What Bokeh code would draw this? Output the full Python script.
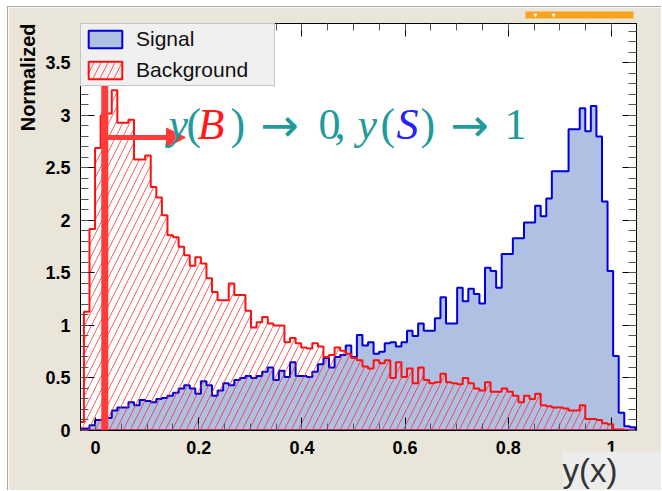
import numpy as np
from bokeh.plotting import figure
from bokeh.models import (Range1d, FixedTicker, LinearAxis, Legend, LegendItem,
                          Span, Arrow, NormalHead, Label, Title, CustomJSTickFormatter)
from bokeh.embed import file_html
from bokeh.resources import INLINE

# ---------------- data ----------------
HIST_MIN, HIST_MAX = -0.0332, 1.0463

signal = [0.02, 0.02, 0.05, 0.10, 0.10, 0.12, 0.19, 0.22, 0.22, 0.27,
          0.24, 0.29, 0.28, 0.27, 0.30, 0.31, 0.33, 0.36, 0.40, 0.43,
          0.40, 0.35, 0.47, 0.43, 0.33, 0.38, 0.45, 0.43, 0.48, 0.50,
          0.52, 0.50, 0.52, 0.56, 0.60, 0.48, 0.57, 0.51, 0.65, 0.52,
          0.52, 0.51, 0.56, 0.63, 0.69, 0.60, 0.70, 0.72, 0.81, 0.70,
          0.91, 0.81, 0.84, 0.73, 0.75, 0.83, 0.84, 0.80, 0.84, 0.95,
          0.90, 1.02, 0.95, 0.95, 1.07, 1.27, 1.02, 1.02, 1.36, 1.23,
          1.35, 1.30, 1.21, 1.55, 1.52, 1.36, 1.68, 1.68, 1.83, 1.83,
          1.98, 1.98, 2.14, 2.04, 2.21, 2.47, 2.47, 2.47, 2.87, 2.87,
          3.07, 2.85, 3.09, 2.80, 2.18, 1.52, 0.71, 0.17, 0.04, 0.03]

background = [0.08, 1.13, 1.92, 2.69, 3.00, 3.02, 3.24, 2.93, 2.93, 2.96,
              2.58, 2.58, 2.62, 2.32, 2.22, 2.05, 1.86, 1.84, 1.75, 1.67,
              1.57, 1.65, 1.59, 1.45, 1.32, 1.24, 1.24, 1.40, 1.29, 1.29,
              1.14, 0.98, 1.03, 1.08, 1.02, 1.00, 1.00, 0.84, 0.88, 0.83,
              0.79, 0.78, 0.83, 0.80, 0.70, 0.72, 0.79, 0.76, 0.73, 0.69,
              0.67, 0.61, 0.59, 0.67, 0.64, 0.67, 0.50, 0.65, 0.51, 0.59,
              0.45, 0.60, 0.48, 0.45, 0.46, 0.54, 0.46, 0.45, 0.44, 0.50,
              0.45, 0.40, 0.38, 0.46, 0.37, 0.37, 0.40, 0.37, 0.33, 0.27,
              0.33, 0.30, 0.35, 0.24, 0.23, 0.22, 0.22, 0.21, 0.19, 0.19,
              0.24, 0.11, 0.11, 0.10, 0.07, 0.06, 0.01, 0.01, 0.00, 0.00]

x_ticks = [0, 0.2, 0.4, 0.6, 0.8, 1.0]
x_tick_labels = ["0", "0.2", "0.4", "0.6", "0.8", "1"]
y_ticks = [0, 0.5, 1.0, 1.5, 2.0, 2.5, 3.0, 3.5]
y_tick_labels = ["0", "0.5", "1", "1.5", "2", "2.5", "3", "3.5"]
x_minor = [round(0.05 * k, 2) for k in range(0, 21)]
y_minor = [round(0.1 * k, 1) for k in range(0, 39)]

CUT = 0.018          # cut value on y(x)
ARROW_Y = 2.79
ARROW_END = 0.1744

# ---------------- figure ----------------
BEIGE = "#e9e5d9"
p = figure(width=654, height=484,
           x_range=Range1d(-0.029, 1.0484), y_range=Range1d(0, 3.876),
           output_backend="svg", toolbar_location=None,
           min_border_left=72, min_border_right=26,
           min_border_top=16, min_border_bottom=61,
           background_fill_color="white", border_fill_color=BEIGE,
           outline_line_color="black", outline_line_width=1)
p.styles = {"margin-left": "7px", "margin-top": "6px",
            "border-left": "1px solid #a9a9a9", "border-top": "1px solid #a9a9a9"}
p.grid.visible = False

edges = np.linspace(HIST_MIN, HIST_MAX, len(signal) + 1)


def step_polygon(vals):
    xs = np.repeat(edges, 2)
    ys = np.concatenate([[0.0], np.repeat(np.asarray(vals, float), 2), [0.0]])
    return xs, ys


sx, sy = step_polygon(signal)
bx, by = step_polygon(background)

sig_r = p.patch(sx, sy, fill_color="#afc0e2", fill_alpha=1.0,
                line_color="#0000dd", line_width=2)
bkg_r = p.patch(bx, by, fill_alpha=0.0, line_color="#ff1010", line_width=2,
                hatch_pattern="/", hatch_color="#ff2020", hatch_alpha=0.7,
                hatch_weight=1, hatch_scale=14)

# ---------------- axes ----------------
def style_axis(ax, ticks, minor, labels, major_len, minor_len, standoff, show):
    ax.ticker = FixedTicker(ticks=ticks, minor_ticks=minor)
    ax.major_tick_in = major_len
    ax.major_tick_out = 0
    ax.minor_tick_in = minor_len
    ax.minor_tick_out = 0
    ax.major_tick_line_color = "black"
    ax.minor_tick_line_color = "#555555"
    ax.axis_line_color = "black"
    ax.major_label_standoff = standoff
    if show:
        ax.major_label_overrides = {t: l for t, l in zip(ticks, labels)}
        ax.major_label_text_font = "Liberation Sans"
        ax.major_label_text_font_style = "bold"
        ax.major_label_text_font_size = "18px"
        ax.major_label_text_color = "black"
    else:
        ax.formatter = CustomJSTickFormatter(code="return ''")
        ax.major_label_text_font_size = "0px"


style_axis(p.xaxis[0], x_ticks, x_minor, x_tick_labels, 13, 7, 10, True)
style_axis(p.yaxis[0], y_ticks, y_minor, y_tick_labels, 14, 8, 10, True)

top_ax = LinearAxis()
right_ax = LinearAxis()
style_axis(top_ax, x_ticks, x_minor, x_tick_labels, 13, 7, 0, False)
style_axis(right_ax, y_ticks, y_minor, y_tick_labels, 14, 8, 0, False)
p.add_layout(top_ax, "above")
p.add_layout(right_ax, "right")

# ---------------- legend ----------------
legend = Legend(items=[LegendItem(label="Signal", renderers=[sig_r]),
                       LegendItem(label="Background", renderers=[bkg_r])],
                location="top_left", margin=0, padding=3, spacing=7,
                glyph_width=42, glyph_height=22, label_height=22,
                label_standoff=10, label_width=135,
                label_text_font="Liberation Sans", label_text_font_size="21px",
                label_text_color="#111111",
                background_fill_color="#f0f0f0", background_fill_alpha=1.0,
                border_line_color="#9a9a9a", border_line_width=1)
p.add_layout(legend)

# ---------------- cut line and arrow ----------------
CUT_RED = "#ff3c3c"
p.add_layout(Span(location=CUT, dimension="height", line_color=CUT_RED,
                  line_width=7, level="overlay"))
p.add_layout(Arrow(x_start=CUT, y_start=ARROW_Y, x_end=ARROW_END, y_end=ARROW_Y,
                   line_color=CUT_RED, line_width=5, level="overlay",
                   end=NormalHead(size=19, fill_color=CUT_RED, line_color=CUT_RED)))

# ---------------- formula ----------------
TEAL = "#1f9b9b"
SERIF = "Liberation Serif"
formula = [("y", TEAL, "italic", 0.1415, SERIF, 44), ("(", TEAL, "normal", 0.1764, SERIF, 44),
           ("B", "#ff1a1a", "italic", 0.1977, SERIF, 44), (")", TEAL, "normal", 0.2616, SERIF, 44),
           ("\u2192", TEAL, "normal", 0.3198, "DejaVu Sans", 46), ("0", TEAL, "normal", 0.4322, SERIF, 44),
           (",", TEAL, "normal", 0.4632, SERIF, 44), ("y", TEAL, "italic", 0.5078, SERIF, 44),
           ("(", TEAL, "normal", 0.5523, SERIF, 44), ("S", "#2222ff", "italic", 0.5833, SERIF, 44),
           (")", TEAL, "normal", 0.6298, SERIF, 44), ("\u2192", TEAL, "normal", 0.688, "DejaVu Sans", 46),
           ("1", TEAL, "normal", 0.7926, SERIF, 44)]
for txt, col, style, xpos, fnt, size in formula:
    p.add_layout(Label(x=xpos, y=2.914, text=txt, text_color=col,
                       text_font=fnt, text_font_style=style,
                       text_font_size=f"{size}px", text_align="left",
                       text_baseline="alphabetic", level="overlay"))

# ---------------- outer texts (titles live outside the frame) ----------------
# padding order: (left, right, top, bottom)
p.add_layout(Title(text="Normalized", align="right", text_font="Liberation Sans",
                   text_font_style="bold", text_font_size="20px",
                   text_color="black", standoff=8), "left")

p.add_layout(Title(text="y(x)", align="right", offset=-26, text_font="Liberation Sans",
                   text_font_style="normal", text_font_size="33px",
                   text_color="#333333", background_fill_color="#ececec",
                   padding=(0, 45, 0, 8), standoff=-14), "below")

NB = "\u00a0"
p.add_layout(Title(text="\u25bc" + NB * 9 + "\u25bc", align="right", offset=3,
                   vertical_align="top",
                   text_font="DejaVu Sans", text_font_style="normal",
                   text_font_size="5px", text_color="white",
                   background_fill_color="#f9a31a", padding=(8, 78, 0, 1),
                   standoff=6), "above")

open("out.html", "w").write(file_html(p, INLINE))
